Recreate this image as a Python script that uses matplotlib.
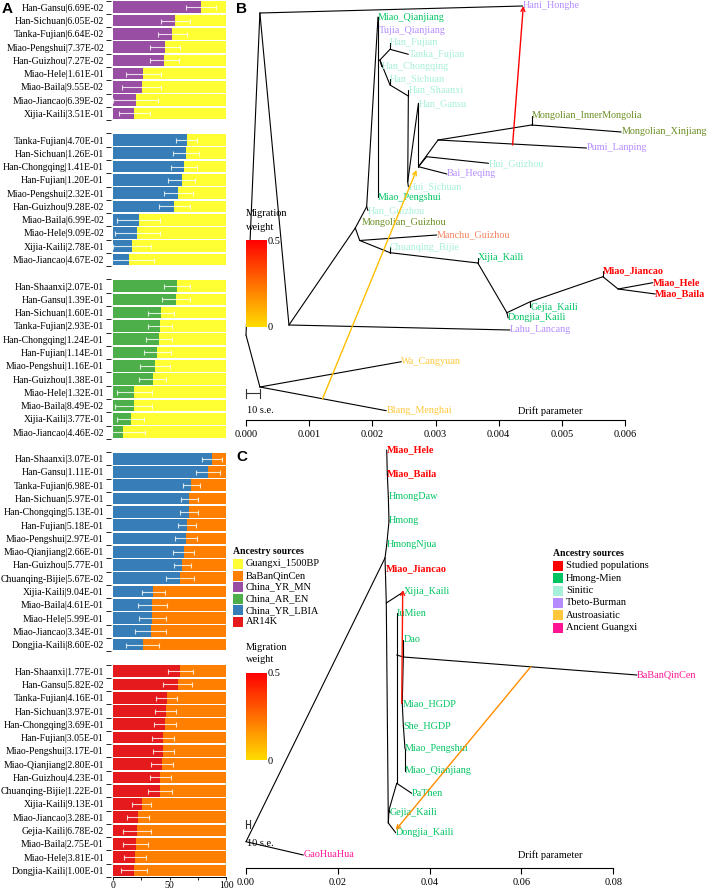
import numpy as np
import matplotlib.pyplot as plt
from matplotlib.patches import Rectangle
from matplotlib.colors import LinearSegmentedColormap, Normalize
from matplotlib.cm import ScalarMappable

plt.rcParams['font.family'] = ['Liberation Serif', 'DejaVu Serif']
plt.rcParams['font.size'] = 7.5

W, H = 708, 891


def box(x0, y0, x1, y1):
    # pixel box (left, top, right, bottom) -> figure fraction
    return [x0 / W, 1 - y1 / H, (x1 - x0) / W, (y1 - y0) / H]


## Panel A data (two-way models, % of first source)
g1_names = ['Han-Gansu', 'Han-Sichuan', 'Tanka-Fujian', 'Miao-Pengshui', 'Han-Guizhou',
            'Miao-Hele', 'Miao-Baila', 'Miao-Jiancao', 'Xijia-Kaili']
g1_p = ['6.69E-02', '6.05E-02', '6.64E-02', '7.37E-02', '7.27E-02', '1.61E-01', '9.55E-02',
        '6.39E-02', '3.51E-01']
g1_v = [78, 55, 52.4, 45.9, 45.3, 26.8, 25.6, 20, 19]
g1_e = [13, 12.9, 12.9, 13, 12.9, 15.4, 17.3, 19.7, 13.6]

g2_names = ['Tanka-Fujian', 'Han-Sichuan', 'Han-Chongqing', 'Han-Fujian', 'Miao-Pengshui',
            'Han-Guizhou', 'Miao-Baila', 'Miao-Hele', 'Xijia-Kaili', 'Miao-Jiancao']
g2_p = ['4.70E-01', '1.26E-01', '1.41E-01', '1.20E-01', '2.32E-01', '9.28E-02', '6.99E-02',
        '9.09E-02', '2.78E-01', '4.67E-02']
g2_v = [65.3, 64.4, 62.4, 60.9, 57.6, 54.1, 22.9, 21.5, 16.8, 14.1]
g2_e = [9.4, 11.3, 11.5, 11.8, 12.8, 13.8, 19.1, 19.7, 16.8, 22]

g3_names = ['Han-Shaanxi', 'Han-Gansu', 'Han-Sichuan', 'Tanka-Fujian', 'Han-Chongqing',
            'Han-Fujian', 'Miao-Pengshui', 'Han-Guizhou', 'Miao-Hele', 'Miao-Baila',
            'Xijia-Kaili', 'Miao-Jiancao']
g3_p = ['2.07E-01', '1.39E-01', '1.60E-01', '2.93E-01', '1.24E-01', '1.14E-01', '1.16E-01',
        '1.38E-01', '1.32E-01', '8.49E-02', '3.77E-01', '4.46E-02']
g3_v = [56.5, 55.6, 42.4, 41.8, 40.6, 39.1, 37.1, 35, 18.8, 18.2, 15.6, 8.5]
g3_e = [11.8, 12.2, 11.2, 10.6, 11.8, 11.8, 13.5, 11.6, 15.7, 16.2, 11.8, 19.7]

g4_names = ['Han-Shaanxi', 'Han-Gansu', 'Tanka-Fujian', 'Han-Sichuan', 'Han-Chongqing',
            'Han-Fujian', 'Miao-Pengshui', 'Miao-Qianjiang', 'Han-Guizhou', 'Chuanqing-Bijie',
            'Xijia-Kaili', 'Miao-Baila', 'Miao-Hele', 'Miao-Jiancao', 'Dongjia-Kaili']
g4_p = ['3.07E-01', '1.11E-01', '6.98E-01', '5.97E-01', '5.13E-01', '5.18E-01', '2.97E-01',
        '2.66E-01', '5.77E-01', '5.67E-02', '9.04E-01', '4.61E-01', '5.99E-01', '3.34E-01',
        '8.60E-02']
g4_v = [87.6, 84.1, 69.4, 67.6, 67.4, 65.6, 64.7, 62.4, 61.5, 59.4, 35.6, 34.7, 34.7, 33.2, 26.2]
g4_e = [9, 10.7, 7.2, 7.4, 7.8, 7.9, 9.7, 9.4, 7.6, 12.4, 10.1, 12.9, 12, 13.4, 14.6]

g5_names = ['Han-Shaanxi', 'Han-Gansu', 'Tanka-Fujian', 'Han-Sichuan', 'Han-Chongqing',
            'Han-Fujian', 'Miao-Pengshui', 'Miao-Qianjiang', 'Han-Guizhou', 'Chuanqing-Bijie',
            'Xijia-Kaili', 'Miao-Jiancao', 'Gejia-Kaili', 'Miao-Baila', 'Miao-Hele',
            'Dongjia-Kaili']
g5_p = ['1.77E-01', '5.82E-02', '4.16E-01', '3.97E-01', '3.69E-01', '3.05E-01', '3.17E-01',
        '2.80E-01', '4.23E-01', '1.22E-01', '9.13E-01', '3.28E-01', '6.78E-02', '2.75E-01',
        '3.81E-01', '1.00E-01']
g5_v = [59.4, 57.1, 47.6, 46.5, 46.2, 44.4, 44.4, 43.5, 42, 41.8, 25.3, 22.1, 21.2, 20, 19.7, 18.8]
g5_e = [11, 12.5, 9.3, 9.6, 9.6, 9.6, 9.4, 9.7, 9, 10.6, 8.4, 10, 12, 11.3, 9.6, 11.3]

studied_A = ['Miao-Hele', 'Miao-Baila', 'Miao-Jiancao']

src_names = ['Guangxi_1500BP', 'BaBanQinCen', 'China_YR_MN', 'China_AR_EN', 'China_YR_LBIA', 'AR14K']
src_colors = ['#FFFF33', '#FF7F00', '#984EA3', '#4DAF4A', '#377EB8', '#E41A1C']

## Tree data (x = drift parameter, y = vertical layout position)
grp_names = ['Studied populations', 'Hmong-Mien', 'Sinitic', 'Tbeto-Burman', 'Austroasiatic',
             'Ancient Guangxi']
grp_colors = ['#FF0000', '#00C462', '#A6F0DA', '#B48CFF', '#FFC83C', '#FF1493']
extra_colors = {'Mongolic': '#6B8E23', 'Manchu': '#F4845F'}

# panel B nodes
b_names = ['root', 'N1', 'N2', 'N3', 'N4', 'N5', 'N6', 'N7', 'N8', 'N9', 'N10', 'N11',
           'Hc', 'HF', 'HS', 'HSh', 'K', 'G', 'Mo', 'HG', 'MI', 'AA',
           'Hani_Honghe', 'Miao_Qianjiang', 'Tujia_Qianjiang', 'Han_Fujian', 'Tanka_Fujian',
           'Han_Chongqing', 'Han_Sichuan', 'Han_Shaanxi', 'Han_Gansu',
           'Mongolian_InnerMongolia', 'Mongolian_Xinjiang', 'Pumi_Lanping', 'Hui_Guizhou',
           'Bai_Heqing', 'Hui_Sichuan', 'Miao_Pengshui', 'Han_Guizhou', 'Mongolian_Guizhou',
           'Manchu_Guizhou', 'Chuanqing_Bijie', 'Xijia_Kaili', 'Miao_Jiancao', 'Miao_Hele',
           'Miao_Baila', 'Gejia_Kaili', 'Dongjia_Kaili', 'Lahu_Lancang', 'Wa_Cangyuan',
           'Blang_Menghai']
b_x = [0.0, 0.00022, 0.00068, 0.00173, 0.00191, 0.00180, 0.00228, 0.00367, 0.00413, 0.00450,
       0.00565, 0.00589, 0.00212, 0.00228, 0.00228, 0.00257, 0.00256, 0.00273, 0.00304, 0.00286,
       0.00452, 0.00022,
       0.00438, 0.00209, 0.00211, 0.00228, 0.00257, 0.00215, 0.00228, 0.00257, 0.00273,
       0.00452, 0.00594, 0.00539, 0.00384, 0.00318, 0.00257, 0.00209, 0.00193, 0.00183,
       0.00302, 0.00228, 0.00367, 0.00565, 0.00644, 0.00648, 0.00450, 0.00415, 0.00418,
       0.00246, 0.00222]
b_y = [335, 13, 325, 228, 206.7, 240.5, 252.7, 263, 312.7, 301.7, 276.7, 289,
       60, 49.3, 85, 96, 181.7, 166.7, 140, 156.7, 125, 387,
       6, 17, 30.5, 42.7, 54.3, 66.7, 79, 90, 103.3, 116, 132, 148, 163.3, 174, 186.7, 197,
       210.5, 222.5, 235, 247, 258, 271, 282.7, 294, 307, 318, 330, 361.7, 410.7]
b_edges = [('root', 'N1'), ('root', 'AA'), ('N1', 'Hani_Honghe'), ('N1', 'N2'),
           ('N2', 'Lahu_Lancang'), ('N2', 'N3'), ('N3', 'N4'), ('N3', 'N5'),
           ('N5', 'Manchu_Guizhou'), ('N5', 'N6'), ('N6', 'Chuanqing_Bijie'), ('N6', 'N7'),
           ('N7', 'Xijia_Kaili'), ('N7', 'N8'), ('N8', 'Dongjia_Kaili'), ('N8', 'N9'),
           ('N9', 'Gejia_Kaili'), ('N9', 'N10'), ('N10', 'Miao_Jiancao'), ('N10', 'N11'),
           ('N11', 'Miao_Hele'), ('N11', 'Miao_Baila'), ('N4', 'Miao_Qianjiang'),
           ('N4', 'Han_Guizhou'), ('Miao_Qianjiang', 'Miao_Pengshui'), ('Hc', 'HF'),
           ('HF', 'Han_Fujian'), ('HF', 'Tanka_Fujian'), ('Hc', 'Han_Chongqing'), ('Hc', 'HS'),
           ('HS', 'Han_Sichuan'), ('HS', 'HSh'), ('HSh', 'Han_Shaanxi'), ('HSh', 'K'),
           ('K', 'Hui_Sichuan'), ('K', 'Han_Gansu'), ('Han_Gansu', 'G'), ('G', 'Mo'),
           ('G', 'HG'), ('HG', 'Hui_Guizhou'), ('G', 'Bai_Heqing'), ('Mo', 'MI'),
           ('MI', 'Mongolian_InnerMongolia'), ('MI', 'Mongolian_Xinjiang'),
           ('Mo', 'Pumi_Lanping'), ('AA', 'Wa_Cangyuan'), ('AA', 'Blang_Menghai')]
b_labels = ['Hani_Honghe', 'Miao_Qianjiang', 'Tujia_Qianjiang', 'Han_Fujian', 'Tanka_Fujian',
            'Han_Chongqing', 'Han_Sichuan', 'Han_Shaanxi', 'Han_Gansu',
            'Mongolian_InnerMongolia', 'Mongolian_Xinjiang', 'Pumi_Lanping', 'Hui_Guizhou',
            'Bai_Heqing', 'Hui_Sichuan', 'Miao_Pengshui', 'Han_Guizhou', 'Mongolian_Guizhou',
            'Manchu_Guizhou', 'Chuanqing_Bijie', 'Xijia_Kaili', 'Miao_Jiancao', 'Miao_Hele',
            'Miao_Baila', 'Gejia_Kaili', 'Dongjia_Kaili', 'Lahu_Lancang', 'Wa_Cangyuan',
            'Blang_Menghai']
b_groups = ['Tbeto-Burman', 'Hmong-Mien', 'Tbeto-Burman', 'Sinitic', 'Sinitic', 'Sinitic',
            'Sinitic', 'Sinitic', 'Sinitic', 'Mongolic', 'Mongolic', 'Tbeto-Burman', 'Sinitic',
            'Tbeto-Burman', 'Sinitic', 'Hmong-Mien', 'Sinitic', 'Mongolic', 'Manchu', 'Sinitic',
            'Hmong-Mien', 'Studied populations', 'Studied populations', 'Studied populations',
            'Hmong-Mien', 'Hmong-Mien', 'Tbeto-Burman', 'Austroasiatic', 'Austroasiatic']
# migration edges: (x from, y from, x to, y to), weight
b_mig = [(0.00422, 145, 0.00439, 6), (0.00121, 399, 0.00270, 170)]
b_mig_w = [0.5, 0.07]

# panel C nodes
c_names = ['root', 'A1', 'A2', 'A3', 'GJ', 'PT', 'DN', 'DC',
           'Miao_Hele', 'Miao_Baila', 'HmongDaw', 'Hmong', 'HmongNjua', 'Miao_Jiancao',
           'Xijia_Kaili', 'IuMien', 'Dao', 'Miao_HGDP', 'She_HGDP', 'Miao_Pengshui',
           'Miao_Qianjiang', 'PaThen', 'Gejia_Kaili', 'Dongjia_Kaili', 'GaoHuaHua', 'BaBanQinCen']
c_x = [0.0, 0.03029, 0.03057, 0.03101, 0.03116, 0.03284, 0.03284, 0.03428,
       0.03066, 0.03079, 0.03101, 0.03116, 0.03066, 0.03051, 0.03428, 0.03284, 0.03428,
       0.03405, 0.03428, 0.03465, 0.03465, 0.03611, 0.03138, 0.03262, 0.01249, 0.08520]
c_y = [841.7, 558, 603, 823, 810, 783.3, 655, 657,
       450, 474, 496.7, 521, 545, 569, 592, 613.3, 640, 703.3, 725.7, 749, 771, 793.3,
       812.7, 832.7, 855, 675]
c_edges = [('root', 'GaoHuaHua'), ('root', 'A1'), ('A1', 'HmongNjua'), ('HmongNjua', 'Hmong'),
           ('Hmong', 'HmongDaw'), ('HmongDaw', 'Miao_Baila'), ('Miao_Baila', 'Miao_Hele'),
           ('A1', 'A2'), ('A2', 'Xijia_Kaili'), ('A2', 'A3'), ('A3', 'Dongjia_Kaili'),
           ('A3', 'GJ'), ('GJ', 'Gejia_Kaili'), ('GJ', 'PT'), ('PT', 'PaThen'), ('PT', 'DN'),
           ('DN', 'IuMien'), ('DN', 'DC'), ('DC', 'Dao'), ('DC', 'Miao_HGDP'),
           ('Miao_HGDP', 'She_HGDP'), ('She_HGDP', 'Miao_Pengshui'),
           ('Miao_Pengshui', 'Miao_Qianjiang'), ('DC', 'BaBanQinCen')]
c_labels = c_names[8:]
c_groups = ['Studied populations', 'Studied populations'] + ['Hmong-Mien'] * 3 + \
           ['Studied populations'] + ['Hmong-Mien'] * 10 + ['Ancient Guangxi'] * 2
c_mig = [(0.03393, 703.3, 0.03415, 590), (0.06204, 666.8, 0.03262, 830)]
c_mig_w = [0.45, 0.18]

mig_cmap = LinearSegmentedColormap.from_list('mig', ['#FFDD00', '#FF0000'])
mig_norm = Normalize(0, 0.5)

fig = plt.figure(figsize=(W / 100, H / 100), dpi=100)

## Panel A
axA = fig.add_axes(box(113, 0.6, 226, 877))
groups = [(g1_names, g1_p, g1_v, g1_e, src_colors[2], src_colors[0]),
          (g2_names, g2_p, g2_v, g2_e, src_colors[4], src_colors[0]),
          (g3_names, g3_p, g3_v, g3_e, src_colors[3], src_colors[0]),
          (g4_names, g4_p, g4_v, g4_e, src_colors[4], src_colors[1]),
          (g5_names, g5_p, g5_v, g5_e, src_colors[5], src_colors[1])]
row = 0
centers, labels, bounds = [], [], []
for names, pv, vals, errs, c1, c2 in groups:
    y = row + np.arange(len(names)) + 0.5
    vals = np.array(vals)
    axA.barh(y, vals, height=0.88, color=c1, lw=0)
    axA.barh(y, 100 - vals, left=vals, height=0.88, color=c2, lw=0)
    axA.errorbar(vals, y, xerr=errs, fmt='none', ecolor='white', alpha=0.8,
                 elinewidth=0.8, capsize=1.8, capthick=0.8)
    centers += list(y)
    labels += [n + '|' + p for n, p in zip(names, pv)]
    bounds += list(row + np.arange(len(names) + 1))
    row += len(names) + 1

axA.set_ylim(row - 1, 0)
axA.set_xlim(0, 100)
axA.set_yticks(centers)
axA.set_yticklabels(labels)
axA.set_yticks(bounds, minor=True)
for t, lab in zip(axA.get_yticklabels(), labels):
    if lab.split('|')[0] in studied_A:
        t.set_color('#FF0000')
        t.set_fontweight('bold')
axA.tick_params(axis='y', which='major', length=0, pad=5, labelsize=7)
axA.tick_params(axis='y', which='minor', length=3.5, width=0.6)
axA.set_xticks([0, 50, 100])
axA.set_xticks([25, 75], minor=True)
axA.tick_params(axis='x', which='major', length=2.5, width=0.6, pad=0.5, labelsize=7)
axA.tick_params(axis='x', which='minor', length=1.8, width=0.6)
axA.spines['left'].set_position(('outward', 1.5))
axA.spines['left'].set_visible(False)
for s in ['top', 'right']:
    axA.spines[s].set_visible(False)
axA.spines['bottom'].set_linewidth(0.7)

fig.text(2 / W, 1 - 9 / H, 'A', family='Liberation Sans', weight='bold', size=11, va='center')


def draw_tree(ax, names, xs, ys, edges, labels, groups, migs, weights):
    idx = {n: i for i, n in enumerate(names)}
    for a, b in edges:
        ax.plot([xs[idx[a]], xs[idx[b]]], [ys[idx[a]], ys[idx[b]]], color='black', lw=0.8,
                solid_capstyle='round', clip_on=False)
    for lab, g in zip(labels, groups):
        if g in grp_names:
            col = grp_colors[grp_names.index(g)]
        else:
            col = extra_colors[g]
        bold = 'bold' if g == 'Studied populations' else 'normal'
        ax.text(xs[idx[lab]], ys[idx[lab]], lab, color=col, fontweight=bold, size=7.3,
                ha='left', va='center', clip_on=False)
    for (x0, y0, x1, y1), w in zip(migs, weights):
        ax.annotate('', xy=(x1, y1), xytext=(x0, y0),
                    arrowprops=dict(arrowstyle='->', color=mig_cmap(mig_norm(w)), lw=1.0,
                                    shrinkA=0, shrinkB=0, mutation_scale=7))


def style_tree_axis(ax, ticks, ticklabels):
    for s in ['top', 'right', 'left']:
        ax.spines[s].set_visible(False)
    ax.spines['bottom'].set_bounds(ticks[0], ticks[-1])
    ax.spines['bottom'].set_linewidth(0.8)
    ax.set_yticks([])
    ax.set_xticks(ticks)
    ax.set_xticklabels(ticklabels)
    ax.tick_params(axis='x', length=4, width=0.8, pad=3, labelsize=7.5)
    ax.patch.set_visible(False)


## Panel B
axB = fig.add_axes(box(230, 0, 708, 420))
axB.set_xlim(-16 / 63170, 462 / 63170)
axB.set_ylim(420, 0)
draw_tree(axB, b_names, b_x, b_y, b_edges, b_labels, b_groups, b_mig, b_mig_w)
style_tree_axis(axB, [0, 0.001, 0.002, 0.003, 0.004, 0.005, 0.006],
                ['0.000', '0.001', '0.002', '0.003', '0.004', '0.005', '0.006'])
se_b = 0.000222
axB.plot([0, se_b], [393, 393], color='#333333', lw=0.8)
axB.plot([0, 0], [388.5, 397.5], color='#333333', lw=0.8)
axB.plot([se_b, se_b], [388.5, 397.5], color='#333333', lw=0.8)
axB.text(0.00001, 410.7, '10 s.e.', ha='left', va='center', size=7.5)
axB.text(0.004306, 410.7, 'Drift parameter', ha='left', va='center', size=7.5)
fig.text(236 / W, 1 - 9 / H, 'B', family='Liberation Sans', weight='bold', size=11, va='center')

## Panel C
axC = fig.add_axes(box(230, 440, 708, 868.3))
axC.set_xlim(-16 * 0.0002179, 462 * 0.0002179)
axC.set_ylim(868.3, 440)
draw_tree(axC, c_names, c_x, c_y, c_edges, c_labels, c_groups, c_mig, c_mig_w)
style_tree_axis(axC, [0, 0.02, 0.04, 0.06, 0.08], ['0.00', '0.02', '0.04', '0.06', '0.08'])
se_c = 0.00087
axC.plot([0, se_c], [824, 824], color='#333333', lw=0.8)
axC.plot([0, 0], [820, 828], color='#333333', lw=0.8)
axC.plot([se_c, se_c], [820, 828], color='#333333', lw=0.8)
axC.text(0.0002, 843.3, '10 s.e.', ha='left', va='center', size=7.5)
axC.text(0.0593, 855, 'Drift parameter', ha='left', va='center', size=7.5)
fig.text(236 / W, 1 - 457 / H, 'C', family='Liberation Sans', weight='bold', size=11, va='center')

## Migration weight colourbars
for top, bot in [(240, 327), (673, 760)]:
    cax = fig.add_axes(box(246, top, 267, bot))
    cb = fig.colorbar(ScalarMappable(norm=mig_norm, cmap=mig_cmap), cax=cax, ticks=[0, 0.5])
    cb.outline.set_visible(False)
    cb.ax.set_yticklabels(['0', '0.5'])
    cb.ax.tick_params(length=0, pad=0.5, labelsize=7.5)
    fig.text(246 / W, 1 - (top - 26) / H, 'Migration', size=7.5, va='center')
    fig.text(246 / W, 1 - (top - 13) / H, 'weight', size=7.5, va='center')


## Legends
def draw_legend(x, y_title, y0, step, names, colors):
    fig.text(x / W, 1 - y_title / H, 'Ancestry sources', weight='bold', size=7, va='center')
    for i, (n, c) in enumerate(zip(names, colors)):
        yc = y0 + i * step
        fig.add_artist(Rectangle((x / W, 1 - (yc + 5) / H), 10 / W, 10 / H, color=c,
                                 transform=fig.transFigure, lw=0))
        fig.text((x + 13) / W, 1 - yc / H, n, size=7.5, va='center')


draw_legend(233, 551, 564, 11.6, src_names, src_colors)
draw_legend(553, 554, 566, 12.3, grp_names, grp_colors)

plt.savefig('out.png', dpi=100)
